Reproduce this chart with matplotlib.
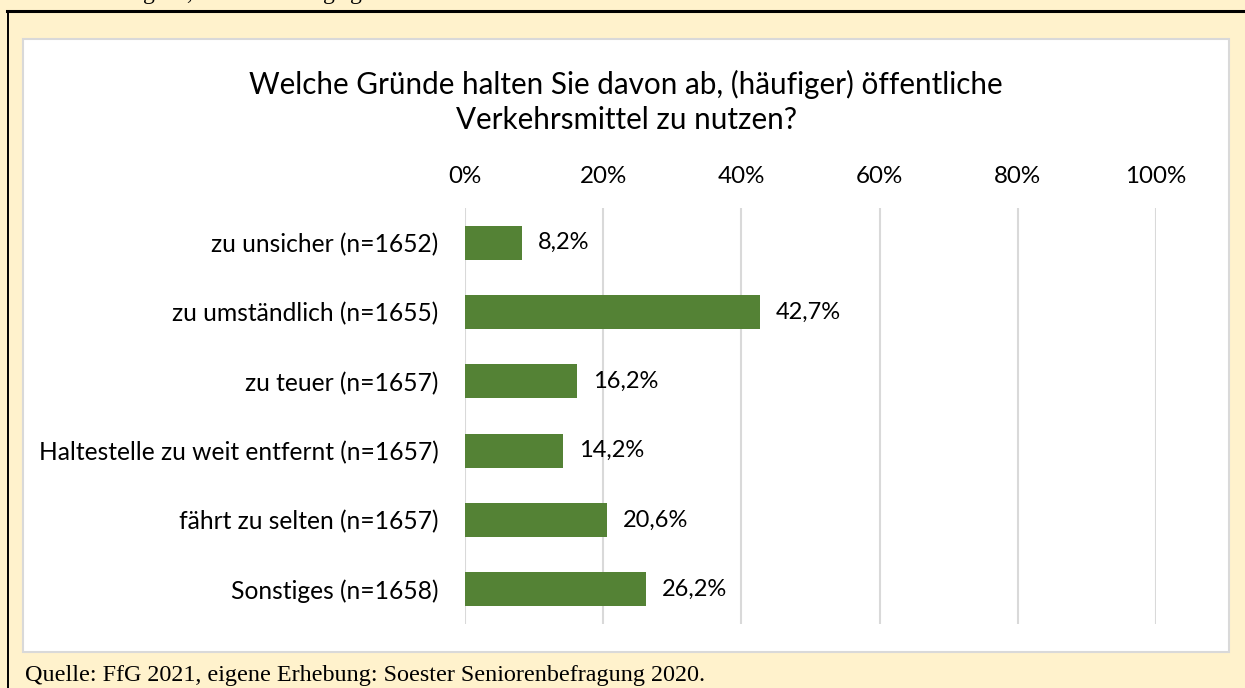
import matplotlib
matplotlib.use('Agg')
import matplotlib.pyplot as plt
from matplotlib.patches import Rectangle
from matplotlib.lines import Line2D

# data
categories = [
    'zu unsicher (n=1652)',
    'zu umständlich (n=1655)',
    'zu teuer (n=1657)',
    'Haltestelle zu weit entfernt (n=1657)',
    'fährt zu selten (n=1657)',
    'Sonstiges (n=1658)',
]
shares = [8.2, 42.7, 16.2, 14.2, 20.6, 26.2]
tick_values = [0, 20, 40, 60, 80, 100]
tick_labels = ['0%', '20%', '40%', '60%', '80%', '100%']

title = 'Welche Gründe halten Sie davon ab, (häufiger) öffentliche\nVerkehrsmittel zu nutzen?'
source = 'Quelle: FfG 2021, eigene Erhebung: Soester Seniorenbefragung 2020.'

W, H = 1245, 688
sans = 'Lato'
serif = 'Liberation Serif'
bar_color = '#548235'
grid_color = '#D9D9D9'

fig = plt.figure(figsize=(W / 100, H / 100), dpi=100)
fig.patch.set_facecolor('#FFF2CC')


def px(x, y):
    # pixel coords (from top-left) -> figure fraction
    return x / W, 1 - y / H


# outer frame lines (top and left) and the white chart area, kept behind the axes
fig.add_artist(Line2D([7 / W, 1], [1 - 11 / H] * 2, color='black', lw=2.2, zorder=-2))
fig.add_artist(Line2D([7.5 / W] * 2, [0, 1 - 11 / H], color='black', lw=1.4, zorder=-2))
x0, y0 = px(23, 652)
fig.add_artist(Rectangle((x0, y0), (1229 - 23) / W, (652 - 39) / H,
                         facecolor='white', edgecolor=grid_color, lw=1.5,
                         transform=fig.transFigure, zorder=-1))

# bits of the caption above, cut off by the page edge (only descenders show)
for gx, ch in [(143, 'g'), (186, ','), (323, 'g'), (350, 'g')]:
    fig.text(gx / W, 1 + 1 / H, ch, fontsize=17, family=serif, va='baseline')

ax = fig.add_axes([465 / W, 1 - 624 / H, (1156 - 465) / W, (624 - 208) / H])
ax.set_facecolor('none')
pos = list(range(len(categories)))
ax.barh(pos, shares, height=0.49, color=bar_color, zorder=2)
ax.set_xlim(0, 100)
ax.set_ylim(len(categories) - 0.5, -0.5)

ax.xaxis.tick_top()
ax.set_xticks(tick_values)
ax.set_xticklabels(tick_labels, fontsize=17.4, family=sans)
ax.set_yticks(pos)
ax.set_yticklabels(categories, fontsize=17.7, family=sans)
ax.tick_params(axis='both', length=0)
ax.tick_params(axis='x', pad=15)
ax.tick_params(axis='y', pad=19)
for s in ax.spines.values():
    s.set_visible(False)
ax.grid(axis='x', color=grid_color, lw=1.5, zorder=1)
ax.set_axisbelow(True)

for p, v in zip(pos, shares):
    ax.annotate(f'{v:.1f}%'.replace('.', ','), (v, p), xytext=(11.5, 0),
                textcoords='offset points', va='center', ha='left',
                fontsize=17, family=sans)

tx, ty = px(626, 102)
fig.text(tx, ty, title, ha='center', va='center', fontsize=21.3, family=sans,
         linespacing=1.3)

sx, sy = px(25, 676)
fig.text(sx, sy, source, ha='left', va='center', fontsize=17.4, family=serif)

fig.savefig('out.png', dpi=100, facecolor=fig.get_facecolor())
